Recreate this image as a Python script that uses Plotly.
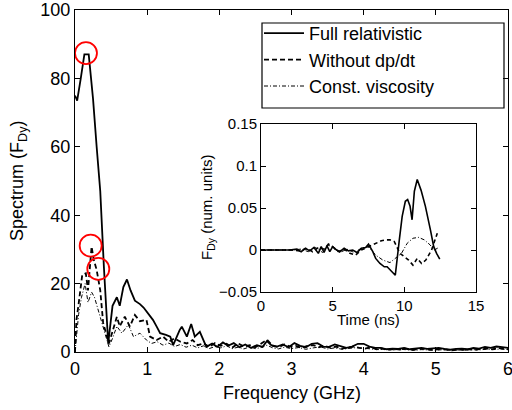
import plotly.graph_objects as go

W, H = 512, 410

# ---------------- main spectrum data ----------------
freq_full = [0.00, 0.03, 0.08, 0.13, 0.19, 0.25, 0.30, 0.35, 0.40, 0.46, 0.52, 0.58, 0.62, 0.67,
             0.72, 0.77, 0.83, 0.90, 0.95, 1.02, 1.08, 1.13, 1.18, 1.26, 1.32, 1.36, 1.41, 1.45,
             1.48, 1.55, 1.61, 1.66, 1.73, 1.82, 1.90, 1.97, 2.05, 2.12, 2.20, 2.28, 2.36, 2.44,
             2.52, 2.60, 2.66, 2.72, 2.80, 2.88, 2.96, 3.04, 3.12, 3.20, 3.28, 3.36, 3.44, 3.52,
             3.60, 3.68, 3.76, 3.84, 3.92, 4.00, 4.08, 4.16, 4.24, 4.32, 4.40, 4.48, 4.56, 4.64,
             4.72, 4.80, 4.88, 4.96, 5.04, 5.12, 5.20, 5.28, 5.36, 5.44, 5.52, 5.60, 5.68, 5.76,
             5.84, 5.92, 6.00]
spec_full = [75, 73.5, 80, 87, 87, 74, 60, 47, 25, 2.5, 13.5, 16, 13.5, 19,
             21.2, 18, 15, 14, 13, 11, 9.4, 7.5, 5.5, 5, 4.5, 2, 4.5, 6.4,
             7.4, 4.5, 8.2, 4.5, 5.9, 1.5, 2.5, 1.5, 2.8, 1.8, 2.6, 1.4, 2.2, 1.2,
             2.0, 1.5, 3.2, 2.0, 1.6, 2.2, 1.4, 2.6, 1.8, 1.4, 2.4, 2.6, 1.6, 1.5,
             2.2, 1.8, 1.2, 1.6, 2.4, 2.4, 1.6, 1.2, 1.2, 0.8, 1.0, 0.9, 1.2, 0.8,
             1.0, 1.2, 0.9, 1.0, 1.2, 0.9, 0.7, 0.9, 1.0, 0.8, 1.2, 1.0, 1.5, 1.2,
             1.6, 1.4, 1.2]

freq_nodp = [0.00, 0.02, 0.05, 0.07, 0.10, 0.15, 0.18, 0.23, 0.26, 0.30, 0.35, 0.39, 0.44, 0.47,
             0.52, 0.58, 0.62, 0.69, 0.76, 0.83, 0.90, 0.99, 1.04, 1.13, 1.22, 1.30, 1.38, 1.46,
             1.55, 1.63, 1.70, 1.78, 1.86, 1.94, 2.02, 2.10, 2.18, 2.26, 2.34, 2.42, 2.50, 2.58,
             2.66, 2.74, 2.82, 2.90, 2.98, 3.06, 3.14, 3.22, 3.30, 3.38, 3.46, 3.54, 3.62, 3.70,
             3.78, 3.86, 3.94, 4.02, 4.10, 4.18, 4.26, 4.34, 4.42, 4.50, 4.58, 4.66, 4.74, 4.82,
             4.90, 4.98, 5.06, 5.14, 5.22, 5.30, 5.38, 5.46, 5.54, 5.62, 5.70, 5.78, 5.86, 5.94,
             6.00]
spec_nodp = [0, 9.4, 14, 18, 22.5, 23, 18, 30.8, 27, 24, 18, 8.5, 4.5, 2.5,
             6, 10.3, 7.5, 10.3, 7.5, 10.8, 9, 9.4, 4.5, 3.5, 4.5, 3, 4, 3,
             2.5, 3.5, 2, 2.5, 1.5, 2.6, 1.8, 2.4, 1.3, 2.5, 1.6, 2.0, 1.4, 2.6,
             3.6, 1.8, 1.4, 2.2, 1.6, 1.8, 1.2, 1.8, 2.0, 1.4, 1.8, 1.2, 1.6, 1.0,
             1.4, 1.6, 1.2, 1.0, 1.4, 0.8, 1.0, 0.6, 0.9, 0.7, 1.0, 0.6, 0.8, 1.0,
             0.7, 0.6, 0.9, 0.7, 0.5, 0.7, 0.6, 0.8, 0.6, 0.9, 1.1, 0.8, 1.2, 0.9,
             0.8]

freq_visc = [0.00, 0.03, 0.05, 0.09, 0.14, 0.18, 0.23, 0.27, 0.34, 0.39, 0.47, 0.52, 0.58, 0.65,
             0.74, 0.81, 0.90, 0.99, 1.06, 1.14, 1.22, 1.30, 1.38, 1.46, 1.54, 1.62, 1.70, 1.78,
             1.86, 1.94, 2.02, 2.10, 2.18, 2.26, 2.34, 2.42, 2.50, 2.58, 2.66, 2.74, 2.82, 2.90,
             3.00, 3.10, 3.20, 3.30, 3.40, 3.50, 3.60, 3.70, 3.80, 3.90, 4.00, 4.10, 4.20, 4.30,
             4.40, 4.50, 4.60, 4.70, 4.80, 4.90, 5.00, 5.10, 5.20, 5.30, 5.40, 5.50, 5.60, 5.70,
             5.80, 5.90, 6.00]
spec_visc = [0, 7, 11, 16, 20, 14.5, 17.5, 16, 11, 7, 1.5, 4, 7.5, 5.5,
             8, 4.5, 5.5, 3.5, 2.5, 3, 2, 2.6, 1.6, 2.2, 1.4, 2.0, 1.2, 1.8,
             1.0, 1.6, 1.2, 1.8, 1.0, 1.4, 0.9, 1.5, 1.0, 1.3, 2.0, 1.2, 0.9, 1.4,
             1.0, 1.3, 0.8, 1.2, 1.5, 0.9, 1.2, 0.8, 1.0, 1.3, 1.1, 0.8, 0.7, 0.9,
             0.6, 0.8, 0.7, 0.5, 0.7, 0.6, 0.5, 0.7, 0.5, 0.6, 0.5, 0.7, 0.6, 0.8,
             0.7, 0.9, 0.7]

# red circle markers (peak positions)
circle_f = [0.152, 0.217, 0.323]
circle_v = [87.4, 31.1, 24.3]

# ---------------- inset time series data ----------------
t_full = [0, 1, 2, 2.5, 2.8, 3.1, 3.4, 3.7, 4.0, 4.2, 4.4, 4.6, 4.8, 5.0, 5.2, 5.5, 5.8, 6.1,
          6.4, 6.7, 7.0, 7.3, 7.5, 7.8, 8.0, 8.3, 8.6, 8.8, 9.1, 9.37, 9.65, 9.85, 10.07, 10.23,
          10.4, 10.54, 10.7, 10.9, 11.17, 11.47, 11.82, 12.05, 12.25, 12.47]
f_full = [0, 0, 0, 0.001, -0.002, 0.002, -0.001, 0.003, -0.004, 0.004, -0.003, 0.005, -0.002,
          0.004, 0.001, -0.002, 0.002, -0.001, 0.000, -0.003, 0.002, 0.003, 0.007, -0.002, -0.01,
          -0.016, -0.02, -0.02, -0.025, -0.03, 0.012, 0.04, 0.058, 0.06, 0.052, 0.036, 0.07, 0.084,
          0.071, 0.052, 0.024, 0.004, -0.004, -0.011]

t_nodp = [0, 2, 2.7, 3.2, 3.6, 4.0, 4.4, 4.7, 5.0, 5.4, 5.8, 6.2, 6.6, 7.0, 7.4, 7.8, 8.1, 8.4,
          8.7, 9.0, 9.3, 9.7, 10.0, 10.3, 10.6, 10.9, 11.2, 11.5, 11.9, 12.1, 12.3]
f_nodp = [0, 0, -0.001, 0.002, -0.002, 0.003, 0.001, 0.007, 0.004, -0.002, 0.001, -0.004, -0.006,
          0.0, 0.003, 0.006, 0.009, 0.011, 0.012, 0.012, 0.01, -0.004, -0.008, -0.012, -0.018,
          -0.01, -0.016, -0.012, 0.0, 0.01, 0.02]

t_visc = [0, 2, 2.8, 3.3, 3.8, 4.3, 4.7, 5.1, 5.5, 6.0, 6.5, 7.0, 7.5, 8.0, 8.5, 9.0, 9.4, 9.8,
          10.2, 10.6, 11.0, 11.4, 11.8, 12.1, 12.4]
f_visc = [0, 0, 0.001, -0.002, 0.003, -0.003, 0.006, 0.002, -0.003, 0.001, -0.003, 0.002, 0.004,
          -0.006, -0.012, -0.015, -0.01, -0.004, 0.008, 0.014, 0.015, 0.012, 0.006, 0.0, 0.003]

names = ["Full relativistic", "Without dp/dt", "Const. viscosity"]

# ---------------- styles ----------------
FONT = "Liberation Sans, Arial, Helvetica, sans-serif"
solid = dict(color="black", width=1.8)
dashed = dict(color="black", width=1.8, dash="5px,3px")
dashdot = dict(color="black", width=1.0, dash="4px,2px,1px,2px")


def px_x(p):
    return p / W


def px_y(p):
    return 1 - p / H


fig = go.Figure()
fig.add_trace(go.Scatter(x=freq_full, y=spec_full, mode="lines", line=solid, name=names[0],
                         xaxis="x", yaxis="y"))
fig.add_trace(go.Scatter(x=freq_nodp, y=spec_nodp, mode="lines", line=dashed, name=names[1],
                         xaxis="x", yaxis="y"))
fig.add_trace(go.Scatter(x=freq_visc, y=spec_visc, mode="lines", line=dashdot, name=names[2],
                         xaxis="x", yaxis="y"))

fig.add_trace(go.Scatter(x=t_full, y=f_full, mode="lines", line=dict(color="black", width=1.6),
                         showlegend=False, xaxis="x2", yaxis="y2"))
fig.add_trace(go.Scatter(x=t_nodp, y=f_nodp, mode="lines",
                         line=dict(color="black", width=1.6, dash="4px,3px"),
                         showlegend=False, xaxis="x2", yaxis="y2"))
fig.add_trace(go.Scatter(x=t_visc, y=f_visc, mode="lines", line=dashdot,
                         showlegend=False, xaxis="x2", yaxis="y2"))

for cf, cv in zip(circle_f, circle_v):
    fig.add_shape(type="circle", xref="x", yref="y", xsizemode="pixel", ysizemode="pixel",
                  xanchor=cf, yanchor=cv, x0=-11, x1=11, y0=-11, y1=11,
                  line=dict(color="red", width=1.8))

# legend frame
fig.add_shape(type="rect", xref="paper", yref="paper",
              x0=px_x(262), x1=px_x(504), y0=px_y(108), y1=px_y(23),
              line=dict(color="black", width=1.2), fillcolor="rgba(0,0,0,0)", layer="above")

ax_common = dict(showline=True, linecolor="black", linewidth=1, mirror="ticks", ticks="inside",
                 ticklen=5, tickcolor="black", showgrid=False, zeroline=False, automargin=False,
                 ticklabeloverflow="allow")

fig.update_layout(
    width=W, height=H,
    margin=dict(l=0, r=0, t=0, b=0),
    paper_bgcolor="white", plot_bgcolor="white",
    font=dict(family=FONT, size=18, color="black"),
    xaxis=dict(domain=[px_x(75), px_x(508)], range=[0, 6], tickvals=[0, 1, 2, 3, 4, 5, 6],
               tickfont=dict(size=18), **ax_common),
    yaxis=dict(domain=[px_y(352), px_y(10)], range=[0, 100], tickvals=[0, 20, 40, 60, 80, 100],
               tickfont=dict(size=18), **ax_common),
    xaxis2=dict(domain=[px_x(261), px_x(476)], range=[0, 15], tickvals=[0, 5, 10, 15],
                anchor="y2", tickfont=dict(size=15), **ax_common),
    yaxis2=dict(domain=[px_y(292), px_y(124)], range=[-0.05, 0.15],
                tickvals=[-0.05, 0, 0.05, 0.1, 0.15], ticktext=["\u22120.05", "0", "0.05", "0.1", "0.15"],
                anchor="x2", tickfont=dict(size=15), **ax_common),
    showlegend=True,
    legend=dict(x=px_x(259), y=px_y(15), xanchor="left", yanchor="top",
                borderwidth=0, bgcolor="rgba(0,0,0,0)",
                font=dict(size=18), itemwidth=40, tracegroupgap=0),
    annotations=[
        dict(text="Frequency (GHz)", x=px_x(292), y=px_y(393), xref="paper", yref="paper",
             showarrow=False, font=dict(size=18), xanchor="center", yanchor="middle"),
        dict(text="Spectrum (F<sub>Dy</sub>)", x=px_x(19), y=px_y(181), xref="paper", yref="paper",
             showarrow=False, font=dict(size=18), textangle=-90, xanchor="center", yanchor="middle"),
        dict(text="Time (ns)", x=px_x(368), y=px_y(319), xref="paper", yref="paper",
             showarrow=False, font=dict(size=15), xanchor="center", yanchor="middle"),
        dict(text="F<sub>Dy</sub> (num. units)", x=px_x(207), y=px_y(208), xref="paper", yref="paper",
             showarrow=False, font=dict(size=15), textangle=-90, xanchor="center", yanchor="middle"),
    ],
)

fig.write_html("out.html")
